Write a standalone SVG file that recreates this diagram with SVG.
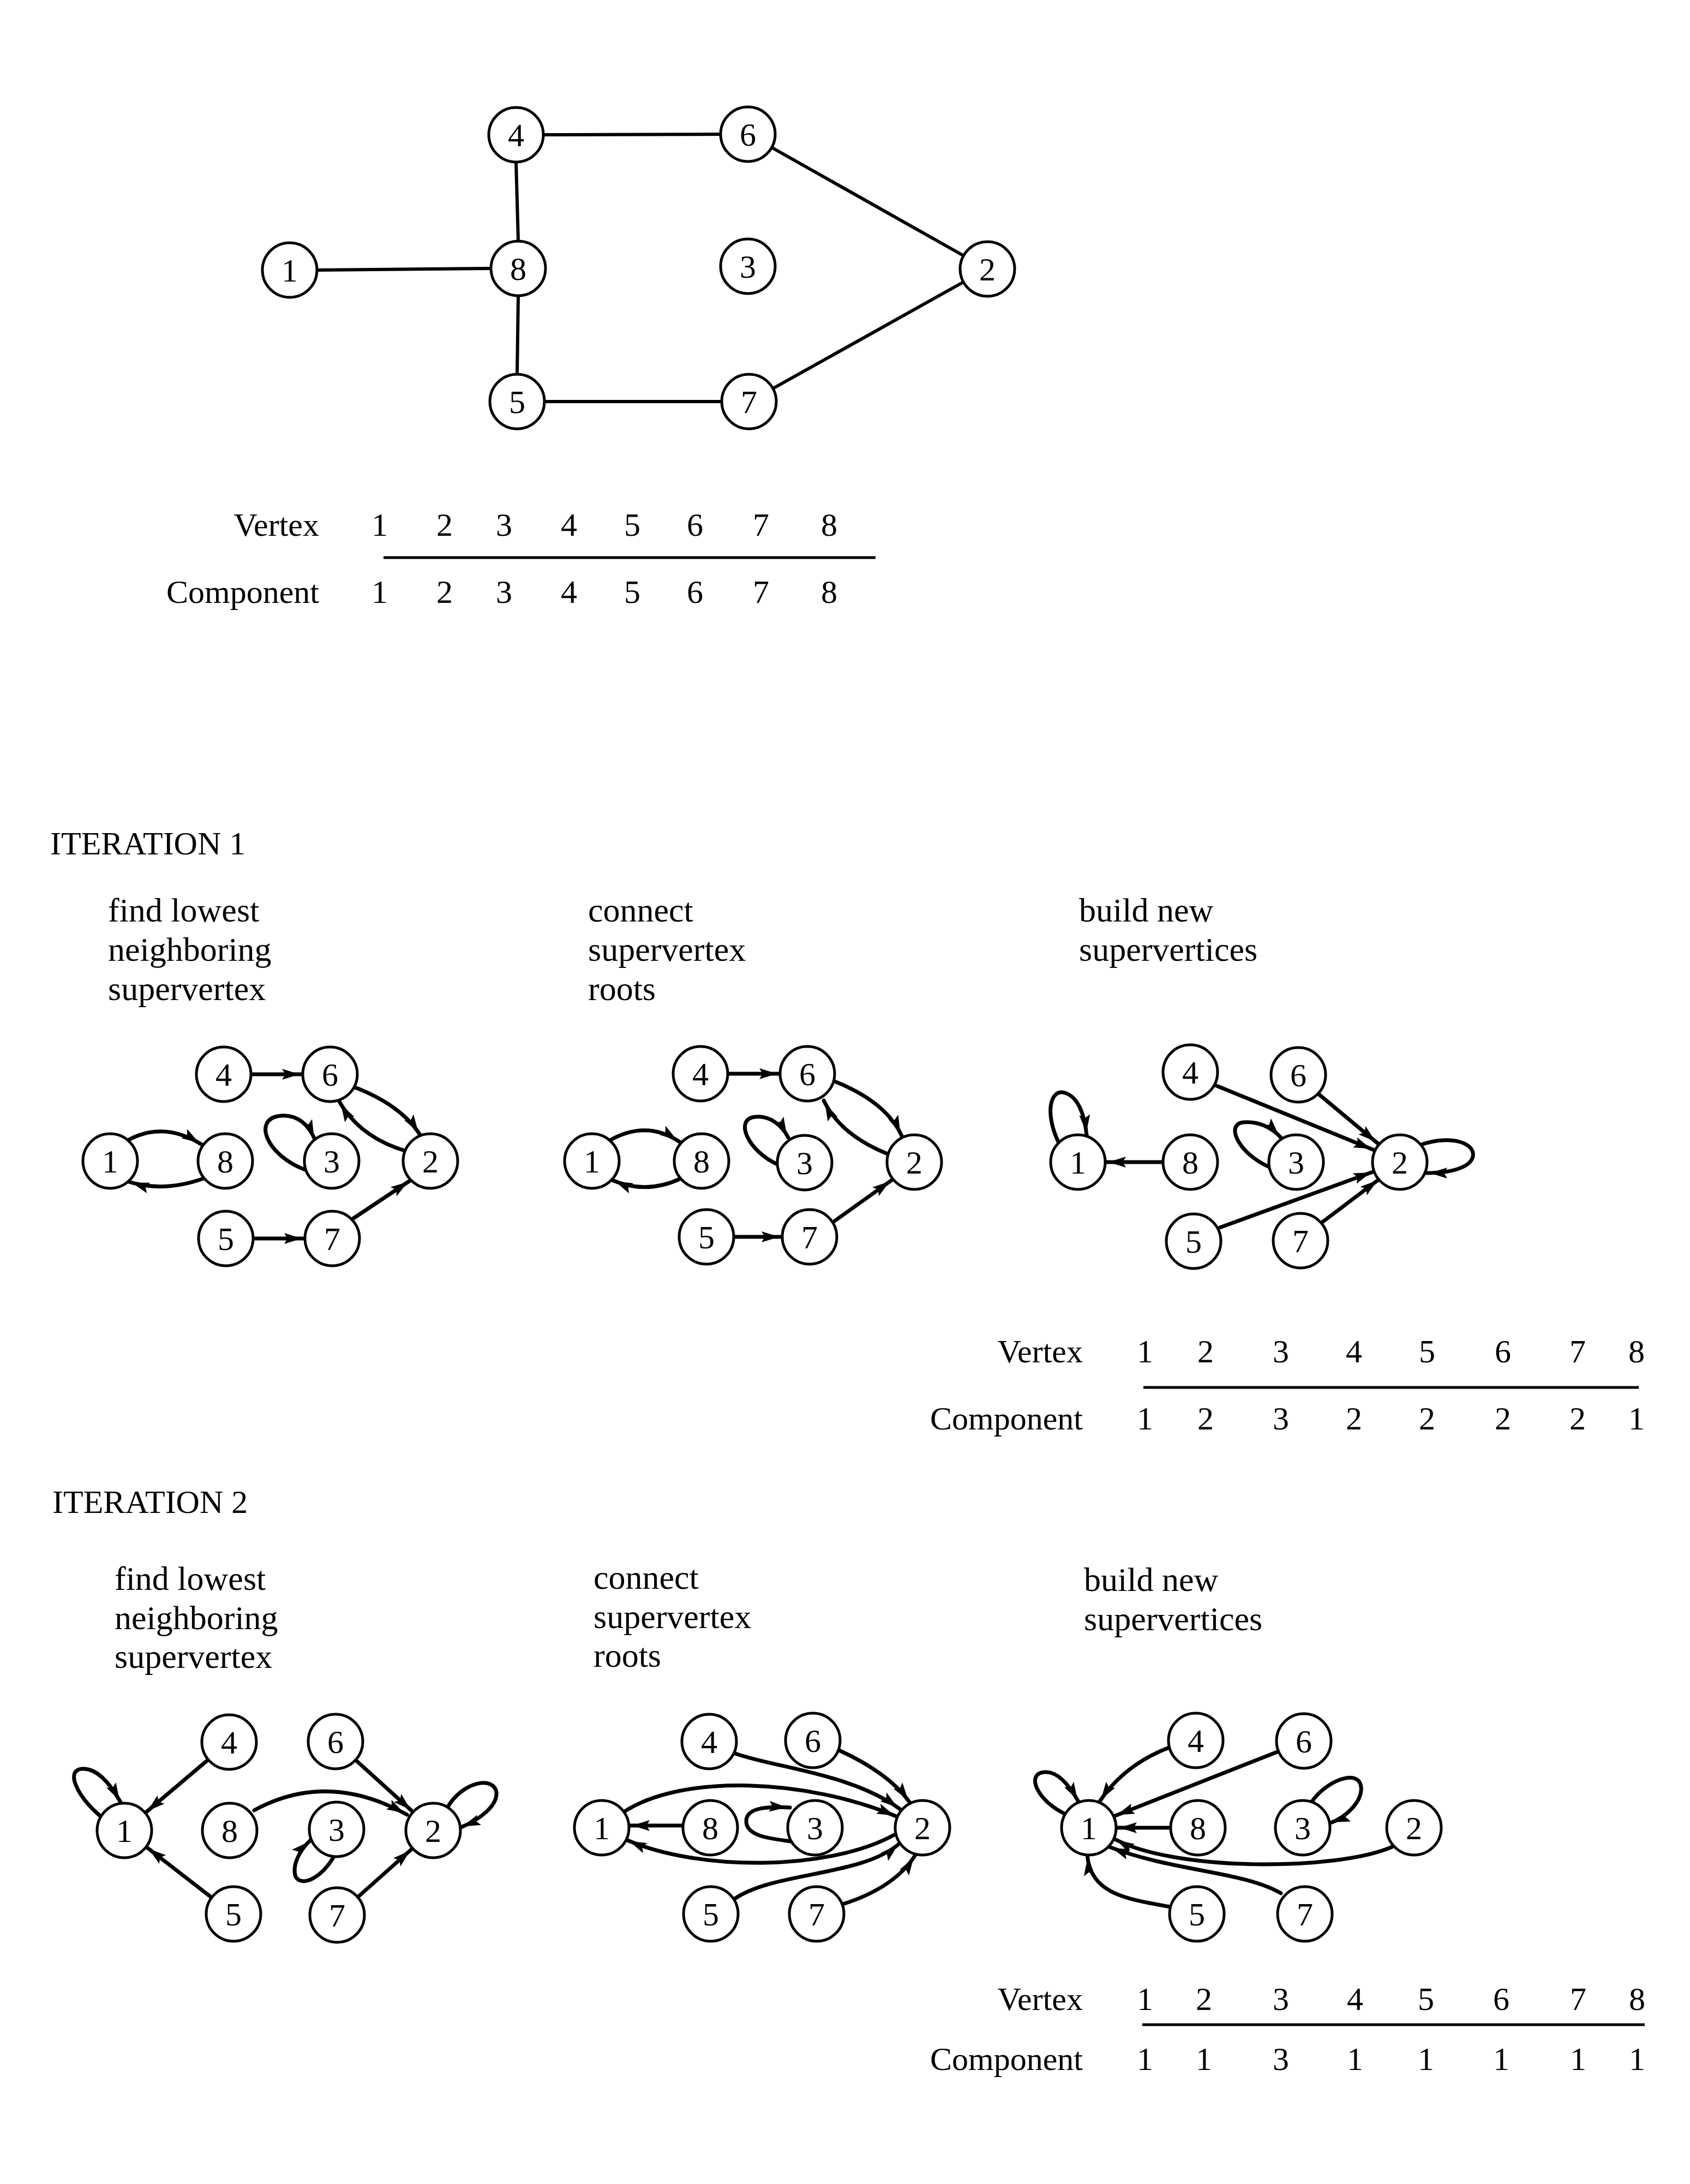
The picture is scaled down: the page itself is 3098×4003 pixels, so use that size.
<svg xmlns="http://www.w3.org/2000/svg" width="3098" height="4003" viewBox="0 0 3098 4003">
<style>
text{font-family:"Liberation Serif","Times New Roman",serif;fill:#000}
.lbl{font-size:62px}
.tbl{font-size:60px}
.num{font-size:60px;text-anchor:middle}
.ttl{font-size:60px}
.node circle{fill:#fff;stroke:#000;stroke-width:5}
.node text{font-size:60px;text-anchor:middle}
.e{fill:none;stroke:#000;stroke-width:7;stroke-linecap:round}
.u{fill:none;stroke:#000;stroke-width:6}
.a{marker-end:url(#ah)}
.rule{stroke:#000;stroke-width:5}
</style>
<defs>
<marker id="ah" markerUnits="userSpaceOnUse" markerWidth="44" markerHeight="22" refX="38" refY="10" orient="auto" overflow="visible">
<path d="M0,0 L32,10 L0,20 L6,10 z" fill="#000"/>
</marker>
</defs>
<rect width="3098" height="4003" fill="#fff"/>

<!-- ===== Top graph ===== -->
<g id="top-edges">
<line class="u" x1="996" y1="247" x2="1321" y2="246"/>
<line class="u" x1="946" y1="297" x2="950" y2="442"/>
<line class="u" x1="581" y1="495" x2="900" y2="492"/>
<line class="u" x1="950" y1="542" x2="948" y2="686"/>
<line class="u" x1="998" y1="736" x2="1323" y2="736"/>
<line class="u" x1="1414" y1="270" x2="1767" y2="469"/>
<line class="u" x1="1417" y1="712" x2="1766" y2="517"/>
</g>
<g id="t4" class="node"><circle cx="946" cy="247" r="50"/><text x="946" y="268">4</text></g>
<g id="t6" class="node"><circle cx="1371" cy="246" r="50"/><text x="1371" y="267">6</text></g>
<g id="t1" class="node"><circle cx="531" cy="495" r="50"/><text x="531" y="516">1</text></g>
<g id="t8" class="node"><circle cx="950" cy="492" r="50"/><text x="950" y="513">8</text></g>
<g id="t3" class="node"><circle cx="1371" cy="488" r="50"/><text x="1371" y="509">3</text></g>
<g id="t2" class="node"><circle cx="1810" cy="493" r="50"/><text x="1810" y="514">2</text></g>
<g id="t5" class="node"><circle cx="948" cy="736" r="50"/><text x="948" y="757">5</text></g>
<g id="t7" class="node"><circle cx="1373" cy="736" r="50"/><text x="1373" y="757">7</text></g>

<g id="table0">
<text class="tbl" x="585" y="982" text-anchor="end">Vertex</text>
<text class="tbl" x="585" y="1105" text-anchor="end">Component</text>
<line class="rule" x1="703" y1="1022" x2="1605" y2="1022"/>
<text class="num" x="696" y="982">1</text><text class="num" x="815" y="982">2</text><text class="num" x="924" y="982">3</text><text class="num" x="1043" y="982">4</text><text class="num" x="1159" y="982">5</text><text class="num" x="1274" y="982">6</text><text class="num" x="1395" y="982">7</text><text class="num" x="1520" y="982">8</text>
<text class="num" x="696" y="1105">1</text><text class="num" x="815" y="1105">2</text><text class="num" x="924" y="1105">3</text><text class="num" x="1043" y="1105">4</text><text class="num" x="1159" y="1105">5</text><text class="num" x="1274" y="1105">6</text><text class="num" x="1395" y="1105">7</text><text class="num" x="1520" y="1105">8</text>
</g>

<!-- ===== Iteration 1 ===== -->
<g id="iter1-labels">
<text class="ttl" x="92" y="1566">ITERATION 1</text>
<text class="lbl" x="198" y="1689">find lowest</text>
<text class="lbl" x="198" y="1761">neighboring</text>
<text class="lbl" x="198" y="1833">supervertex</text>
<text class="lbl" x="1078" y="1689">connect</text>
<text class="lbl" x="1078" y="1761">supervertex</text>
<text class="lbl" x="1078" y="1833">roots</text>
<text class="lbl" x="1978" y="1689">build new</text>
<text class="lbl" x="1978" y="1761">supervertices</text>
</g>

<g id="connectors">
<!-- iteration 1, graph A -->
<path class="e a" d="M460,1969 L555,1969"/>
<path class="e a" d="M464,2270 L559,2270"/>
<path class="e a" d="M234,2090 Q300,2054 370,2098"/>
<path class="e a" d="M373,2160 Q300,2186 236,2166"/>
<path class="e a" d="M562,2145 C490,2120 460,2050 515,2045 C545,2043 565,2060 578,2090"/>
<path class="e a" d="M648,1992 Q735,2025 770,2080"/>
<path class="e a" d="M745,2110 Q660,2085 622,2019"/>
<path class="e a" d="M645,2235 L753,2163"/>
<!-- iteration 1, graph B -->
<path class="e a" d="M1334,1968 L1430,1968"/>
<path class="e a" d="M1345,2267 L1434,2267"/>
<path class="e a" d="M1118,2090 Q1185,2052 1246,2093"/>
<path class="e a" d="M1248,2160 Q1185,2190 1122,2163"/>
<path class="e a" d="M1427,2135 C1370,2110 1345,2050 1385,2047 C1410,2045 1432,2060 1445,2085"/>
<path class="e a" d="M1530,1982 Q1625,2020 1653,2082"/>
<path class="e a" d="M1627,2115 Q1540,2080 1510,2017"/>
<path class="e a" d="M1527,2240 L1636,2162"/>
<!-- iteration 1, graph C -->
<path class="e a" d="M1940,2093 C1915,2040 1925,1995 1952,2003 C1975,2010 1988,2040 1992,2081"/>
<path class="e a" d="M2132,2130 L2026,2130"/>
<path class="e a" d="M2329,2140 C2270,2115 2245,2060 2280,2057 C2305,2055 2330,2065 2348,2085"/>
<path class="e a" d="M2230,1990 L2519,2108"/>
<path class="e a" d="M2418,2006 L2526,2096"/>
<path class="e a" d="M2236,2250 L2519,2147"/>
<path class="e a" d="M2424,2240 L2530,2160"/>
<path class="e a" d="M2608,2097 C2660,2080 2705,2095 2700,2120 C2695,2140 2660,2150 2615,2150"/>
<!-- iteration 2, graph A -->
<path class="e a" d="M182,3327 C140,3290 120,3245 150,3242 C175,3240 200,3265 222,3305"/>
<path class="e a" d="M382,3225 L266,3323"/>
<path class="e a" d="M652,3226 L757,3321"/>
<path class="e a" d="M466,3318 Q600,3245 746,3326"/>
<path class="e a" d="M822,3310 C850,3265 905,3255 910,3285 C912,3310 880,3335 843,3350"/>
<path class="e a" d="M612,3403 C590,3440 555,3460 542,3440 C535,3420 548,3392 570,3372"/>
<path class="e a" d="M388,3478 L268,3385"/>
<path class="e a" d="M656,3477 L756,3388"/>
<!-- iteration 2, graph B -->
<path class="e a" d="M1348,3214 C1420,3240 1560,3250 1650,3316"/>
<path class="e a" d="M1538,3208 Q1630,3250 1668,3304"/>
<path class="e a" d="M1142,3322 C1250,3250 1480,3260 1645,3330"/>
<path class="e a" d="M1252,3346 L1153,3346"/>
<path class="e a" d="M1450,3375 C1410,3370 1370,3365 1368,3340 C1366,3315 1400,3310 1448,3313"/>
<path class="e a" d="M1641,3362 C1520,3430 1280,3430 1148,3372"/>
<path class="e a" d="M1347,3480 C1420,3430 1580,3440 1650,3378"/>
<path class="e a" d="M1545,3490 Q1640,3460 1678,3400"/>
<!-- iteration 2, graph C -->
<path class="e a" d="M1953,3325 C1900,3300 1880,3250 1915,3248 C1940,3246 1962,3275 1978,3304"/>
<path class="e a" d="M2143,3203 Q2060,3235 2015,3303"/>
<path class="e a" d="M2344,3210 L2042,3329"/>
<path class="e a" d="M2146,3350 L2046,3350"/>
<path class="e a" d="M2405,3302 C2430,3265 2490,3240 2495,3275 C2498,3300 2470,3330 2437,3342"/>
<path class="e a" d="M2552,3385 C2450,3430 2150,3430 2042,3370"/>
<path class="e a" d="M2348,3470 C2280,3430 2150,3430 2033,3385"/>
<path class="e a" d="M2145,3495 C2060,3480 2000,3470 1993,3400"/>
</g>

<!-- iteration 1 graph A nodes -->
<g id="i1a-1" class="node"><circle cx="202" cy="2128" r="50"/><text x="202" y="2149">1</text></g>
<g id="i1a-8" class="node"><circle cx="413" cy="2128" r="50"/><text x="413" y="2149">8</text></g>
<g id="i1a-3" class="node"><circle cx="608" cy="2128" r="50"/><text x="608" y="2149">3</text></g>
<g id="i1a-2" class="node"><circle cx="789" cy="2128" r="50"/><text x="789" y="2149">2</text></g>
<g id="i1a-4" class="node"><circle cx="410" cy="1969" r="50"/><text x="410" y="1990">4</text></g>
<g id="i1a-6" class="node"><circle cx="605" cy="1969" r="50"/><text x="605" y="1990">6</text></g>
<g id="i1a-5" class="node"><circle cx="414" cy="2270" r="50"/><text x="414" y="2291">5</text></g>
<g id="i1a-7" class="node"><circle cx="609" cy="2270" r="50"/><text x="609" y="2291">7</text></g>
<!-- iteration 1 graph B nodes -->
<g id="i1b-1" class="node"><circle cx="1085" cy="2128" r="50"/><text x="1085" y="2149">1</text></g>
<g id="i1b-8" class="node"><circle cx="1286" cy="2128" r="50"/><text x="1286" y="2149">8</text></g>
<g id="i1b-3" class="node"><circle cx="1475" cy="2131" r="50"/><text x="1475" y="2152">3</text></g>
<g id="i1b-2" class="node"><circle cx="1676" cy="2130" r="50"/><text x="1676" y="2151">2</text></g>
<g id="i1b-4" class="node"><circle cx="1284" cy="1968" r="50"/><text x="1284" y="1989">4</text></g>
<g id="i1b-6" class="node"><circle cx="1480" cy="1968" r="50"/><text x="1480" y="1989">6</text></g>
<g id="i1b-5" class="node"><circle cx="1295" cy="2267" r="50"/><text x="1295" y="2288">5</text></g>
<g id="i1b-7" class="node"><circle cx="1484" cy="2267" r="50"/><text x="1484" y="2288">7</text></g>
<!-- iteration 1 graph C nodes -->
<g id="i1c-1" class="node"><circle cx="1976" cy="2130" r="50"/><text x="1976" y="2151">1</text></g>
<g id="i1c-8" class="node"><circle cx="2182" cy="2130" r="50"/><text x="2182" y="2151">8</text></g>
<g id="i1c-3" class="node"><circle cx="2376" cy="2130" r="50"/><text x="2376" y="2151">3</text></g>
<g id="i1c-2" class="node"><circle cx="2566" cy="2130" r="50"/><text x="2566" y="2151">2</text></g>
<g id="i1c-4" class="node"><circle cx="2182" cy="1965" r="50"/><text x="2182" y="1986">4</text></g>
<g id="i1c-6" class="node"><circle cx="2380" cy="1970" r="50"/><text x="2380" y="1991">6</text></g>
<g id="i1c-5" class="node"><circle cx="2188" cy="2275" r="50"/><text x="2188" y="2296">5</text></g>
<g id="i1c-7" class="node"><circle cx="2384" cy="2274" r="50"/><text x="2384" y="2295">7</text></g>

<g id="table1">
<text class="tbl" x="1985" y="2497" text-anchor="end">Vertex</text>
<text class="tbl" x="1985" y="2620" text-anchor="end">Component</text>
<line class="rule" x1="2096" y1="2543" x2="3004" y2="2543"/>
<text class="num" x="2099" y="2497">1</text><text class="num" x="2210" y="2497">2</text><text class="num" x="2348" y="2497">3</text><text class="num" x="2482" y="2497">4</text><text class="num" x="2616" y="2497">5</text><text class="num" x="2755" y="2497">6</text><text class="num" x="2892" y="2497">7</text><text class="num" x="3000" y="2497">8</text>
<text class="num" x="2099" y="2620">1</text><text class="num" x="2210" y="2620">2</text><text class="num" x="2348" y="2620">3</text><text class="num" x="2482" y="2620">2</text><text class="num" x="2616" y="2620">2</text><text class="num" x="2755" y="2620">2</text><text class="num" x="2892" y="2620">2</text><text class="num" x="3000" y="2620">1</text>
</g>

<!-- ===== Iteration 2 ===== -->
<g id="iter2-labels">
<text class="ttl" x="96" y="2773">ITERATION 2</text>
<text class="lbl" x="210" y="2914">find lowest</text>
<text class="lbl" x="210" y="2986">neighboring</text>
<text class="lbl" x="210" y="3057">supervertex</text>
<text class="lbl" x="1088" y="2912">connect</text>
<text class="lbl" x="1088" y="2984">supervertex</text>
<text class="lbl" x="1088" y="3055">roots</text>
<text class="lbl" x="1987" y="2916">build new</text>
<text class="lbl" x="1987" y="2988">supervertices</text>
</g>

<!-- iteration 2 graph A nodes -->
<g id="i2a-1" class="node"><circle cx="228" cy="3355" r="50"/><text x="228" y="3376">1</text></g>
<g id="i2a-8" class="node"><circle cx="421" cy="3355" r="50"/><text x="421" y="3376">8</text></g>
<g id="i2a-3" class="node"><circle cx="617" cy="3353" r="50"/><text x="617" y="3374">3</text></g>
<g id="i2a-2" class="node"><circle cx="794" cy="3355" r="50"/><text x="794" y="3376">2</text></g>
<g id="i2a-4" class="node"><circle cx="420" cy="3193" r="50"/><text x="420" y="3214">4</text></g>
<g id="i2a-6" class="node"><circle cx="615" cy="3192" r="50"/><text x="615" y="3213">6</text></g>
<g id="i2a-5" class="node"><circle cx="428" cy="3508" r="50"/><text x="428" y="3529">5</text></g>
<g id="i2a-7" class="node"><circle cx="618" cy="3510" r="50"/><text x="618" y="3531">7</text></g>
<!-- iteration 2 graph B nodes -->
<g id="i2b-1" class="node"><circle cx="1103" cy="3350" r="50"/><text x="1103" y="3371">1</text></g>
<g id="i2b-8" class="node"><circle cx="1302" cy="3350" r="50"/><text x="1302" y="3371">8</text></g>
<g id="i2b-3" class="node"><circle cx="1494" cy="3350" r="50"/><text x="1494" y="3371">3</text></g>
<g id="i2b-2" class="node"><circle cx="1691" cy="3350" r="50"/><text x="1691" y="3371">2</text></g>
<g id="i2b-4" class="node"><circle cx="1300" cy="3192" r="50"/><text x="1300" y="3213">4</text></g>
<g id="i2b-6" class="node"><circle cx="1490" cy="3190" r="50"/><text x="1490" y="3211">6</text></g>
<g id="i2b-5" class="node"><circle cx="1303" cy="3508" r="50"/><text x="1303" y="3529">5</text></g>
<g id="i2b-7" class="node"><circle cx="1497" cy="3508" r="50"/><text x="1497" y="3529">7</text></g>
<!-- iteration 2 graph C nodes -->
<g id="i2c-1" class="node"><circle cx="1996" cy="3350" r="50"/><text x="1996" y="3371">1</text></g>
<g id="i2c-8" class="node"><circle cx="2196" cy="3350" r="50"/><text x="2196" y="3371">8</text></g>
<g id="i2c-3" class="node"><circle cx="2388" cy="3350" r="50"/><text x="2388" y="3371">3</text></g>
<g id="i2c-2" class="node"><circle cx="2592" cy="3350" r="50"/><text x="2592" y="3371">2</text></g>
<g id="i2c-4" class="node"><circle cx="2192" cy="3190" r="50"/><text x="2192" y="3211">4</text></g>
<g id="i2c-6" class="node"><circle cx="2390" cy="3191" r="50"/><text x="2390" y="3212">6</text></g>
<g id="i2c-5" class="node"><circle cx="2194" cy="3508" r="50"/><text x="2194" y="3529">5</text></g>
<g id="i2c-7" class="node"><circle cx="2392" cy="3508" r="50"/><text x="2392" y="3529">7</text></g>

<g id="table2">
<text class="tbl" x="1985" y="3684" text-anchor="end">Vertex</text>
<text class="tbl" x="1985" y="3794" text-anchor="end">Component</text>
<line class="rule" x1="2094" y1="3711" x2="3015" y2="3711"/>
<text class="num" x="2099" y="3684">1</text><text class="num" x="2207" y="3684">2</text><text class="num" x="2348" y="3684">3</text><text class="num" x="2484" y="3684">4</text><text class="num" x="2614" y="3684">5</text><text class="num" x="2752" y="3684">6</text><text class="num" x="2893" y="3684">7</text><text class="num" x="3001" y="3684">8</text>
<text class="num" x="2099" y="3794">1</text><text class="num" x="2207" y="3794">1</text><text class="num" x="2348" y="3794">3</text><text class="num" x="2484" y="3794">1</text><text class="num" x="2614" y="3794">1</text><text class="num" x="2752" y="3794">1</text><text class="num" x="2893" y="3794">1</text><text class="num" x="3001" y="3794">1</text>
</g>
</svg>
